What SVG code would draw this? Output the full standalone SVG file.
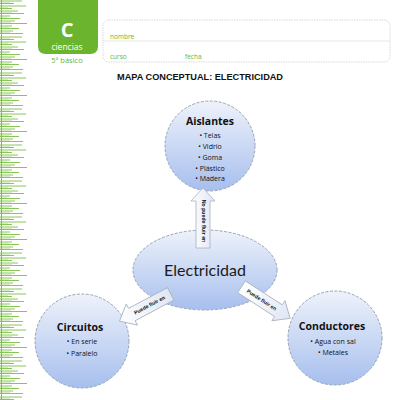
<svg xmlns="http://www.w3.org/2000/svg" width="400" height="400" viewBox="0 0 400 400">
<defs>
<style>
.t{font-family:"Liberation Sans",Arial,sans-serif}
.c{font-family:"Open Sans","Liberation Sans",sans-serif}
.g{fill:#6ab42e}
.head{font-family:"Open Sans","Liberation Sans",sans-serif;font-weight:bold;font-size:10.5px;fill:#111;text-anchor:middle}
.item{font-family:"Open Sans","Liberation Sans",sans-serif;font-size:7px;fill:#111;text-anchor:middle}
.node{fill:url(#bub);stroke:#98a3b5;stroke-width:1;stroke-dasharray:3 1.5}
.arr{fill:url(#ag);stroke:#a8b0bc;stroke-width:0.8}
.lab{font-family:"Liberation Sans",Arial,sans-serif;font-weight:bold;font-size:5.2px;fill:#111;text-anchor:middle}
</style>
<linearGradient id="bub" x1="0" y1="0" x2="0" y2="1">
<stop offset="0" stop-color="#eef2fa"/>
<stop offset="1" stop-color="#a7bfee"/>
</linearGradient>
<linearGradient id="ag" x1="0" y1="0" x2="1" y2="0">
<stop offset="0" stop-color="#ffffff"/>
<stop offset="1" stop-color="#dfe6f4"/>
</linearGradient>
<pattern id="ruler" x="0" y="0" width="40" height="36" patternUnits="userSpaceOnUse">
<g stroke="#7cbf45" stroke-width="0.9">
<path d="M0 1H22M0 3.5H14M0 6H26M0 8.5H12M0 11H18M0 13.5H24M0 16H10M0 18.5H20M0 21H15M0 23.5H27M0 26H12M0 28.5H19M0 31H13M0 33.5H23"/>
</g>
<g stroke="#b9dc98" stroke-width="0.8">
<path d="M0 2.2H10M0 7.2H8M0 12.2H12M0 17.2H7M0 22.2H11M0 27.2H9M0 32.2H10"/>
</g>
</pattern>
</defs>
<rect width="400" height="400" fill="#fff"/>
<rect x="0" y="0" width="30" height="400" fill="url(#ruler)"/>
<line x1="1.5" y1="0" x2="1.5" y2="400" stroke="#7cbf45" stroke-width="1"/>

<g id="header">
<path d="M38 0H98V46Q98 54 90 54H46Q38 54 38 46Z" fill="#6ab42e"/>
<text x="67" y="37" class="c" font-size="20" font-weight="bold" fill="#fff" text-anchor="middle">C</text>
<text x="67" y="50" class="c" font-size="8.5" fill="#fff" text-anchor="middle">ciencias</text>
<text x="67" y="63" class="c g" font-size="7.5" text-anchor="middle">5º básico</text>
<rect x="103" y="20" width="287" height="42" rx="6" fill="none" stroke="#c8c8c8" stroke-width="0.7" stroke-dasharray="1.5 1"/>
<line x1="103" y1="41" x2="390" y2="41" stroke="#d8d8d8" stroke-width="0.6"/>
<text x="110" y="39" class="c g" font-size="6.5">nombre</text>
<text x="110" y="59" class="c g" font-size="6.5">curso</text>
<text x="185" y="59" class="c g" font-size="6.5">fecha</text>
<text x="117" y="80" class="t" font-size="9.5" font-weight="bold" fill="#111" textLength="166" lengthAdjust="spacingAndGlyphs">MAPA CONCEPTUAL: ELECTRICIDAD</text>
</g>

<g id="aislantes">
<circle class="node" cx="210" cy="146" r="45"/>
<text class="head" x="210" y="125">Aislantes</text>
<text class="item" x="210" y="138">• Telas</text>
<text class="item" x="210" y="149">• Vidrio</text>
<text class="item" x="210" y="160">• Goma</text>
<text class="item" x="210" y="171">• Plástico</text>
<text class="item" x="210" y="181">• Madera</text>
</g>

<g id="electricidad">
<ellipse class="node" cx="205" cy="270" rx="72" ry="40"/>
<text x="205" y="276" font-family="Lato,'Liberation Sans',sans-serif" font-size="16" fill="#1a1a1a" text-anchor="middle">Electricidad</text>
</g>

<g id="circuitos">
<circle class="node" cx="82" cy="341" r="47"/>
<text class="head" x="80" y="331">Circuitos</text>
<text class="item" x="82" y="344">• En serie</text>
<text class="item" x="82" y="356">• Paralelo</text>
</g>

<g id="conductores">
<circle class="node" cx="335" cy="338" r="47"/>
<text class="head" x="332" y="330">Conductores</text>
<text class="item" x="333" y="344">• Agua con sal</text>
<text class="item" x="333" y="355">• Metales</text>
</g>

<g id="connectors">
<g id="arrow-up">
<path class="arr" d="M196 248V201H191L203 188L215 201H210V248Z"/>
<text class="lab" transform="translate(203.5 221) rotate(90)" y="1.8">No puede fluir en</text>
</g>
<g id="arrow-left" transform="translate(146 307) rotate(-28)">
<path class="arr" d="M28 -7H-16V-12L-30 0L-16 12V7H28Z"/>
<text class="lab" x="4" y="1.8">Puede fluir en</text>
</g>
<g id="arrow-right" transform="translate(265 302) rotate(33)">
<path class="arr" d="M-28 -7H16V-12L30 0L16 12V7H-28Z"/>
<text class="lab" x="-4" y="1.8">Puede fluir en</text>
</g>
</g>
</svg>
